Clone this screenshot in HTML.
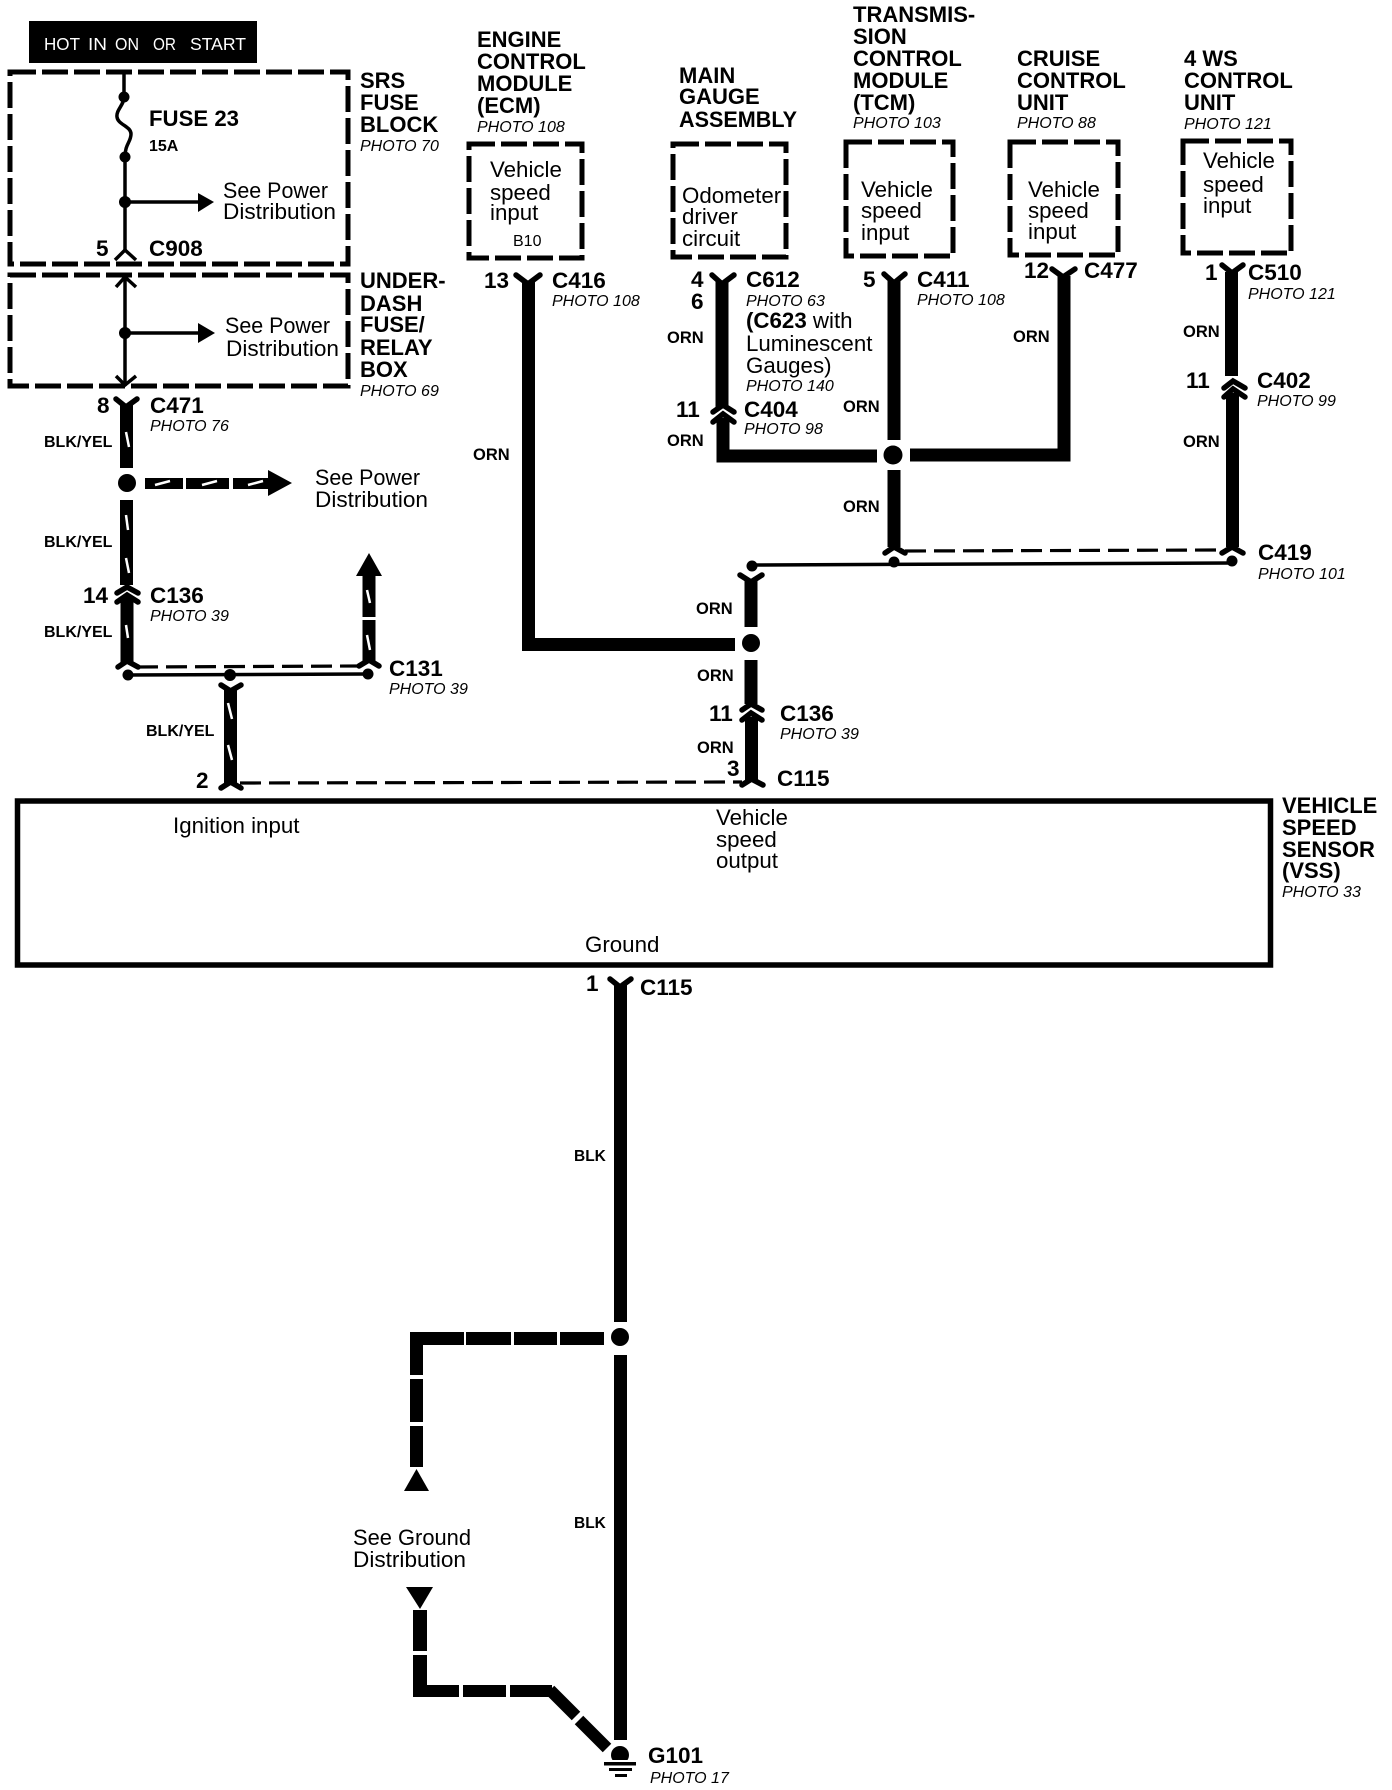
<!DOCTYPE html>
<html>
<head>
<meta charset="utf-8">
<style>
html,body{margin:0;padding:0;background:#fff;width:1392px;height:1790px;overflow:hidden}
svg{display:block}
text{font-family:"Liberation Sans",sans-serif;fill:#000}
.b{font-weight:700;font-size:22px}
.c{font-weight:700;font-size:22.5px}
.n{font-size:22.3px}
.p{font-style:italic;font-size:16px}
.w{font-weight:700;font-size:16px}
.o{font-weight:700;font-size:16.5px}
.box{fill:none;stroke:#000;stroke-width:5;stroke-dasharray:26 6}
.thin{fill:none;stroke:#000;stroke-width:3.5}
.thick{fill:none;stroke:#000;stroke-width:13}
.ch{fill:none;stroke:#000;stroke-width:5.5;stroke-linecap:round}
.dash{fill:none;stroke:#000;stroke-width:3.2;stroke-dasharray:21 8}
.s{stroke:#fff;stroke-width:2.5;fill:none}
</style>
</head>
<body>
<svg width="1392" height="1790" viewBox="0 0 1392 1790" xmlns="http://www.w3.org/2000/svg">
<rect width="1392" height="1790" fill="#fff"/>

<!-- header -->
<rect x="29" y="21" width="228" height="42" fill="#000"/>
<g font-size="17.5">
<text x="44" y="50" style="fill:#fff" textLength="36" lengthAdjust="spacingAndGlyphs">HOT</text>
<text x="88" y="50" style="fill:#fff" textLength="19" lengthAdjust="spacingAndGlyphs">IN</text>
<text x="115" y="50" style="fill:#fff" textLength="24" lengthAdjust="spacingAndGlyphs">ON</text>
<text x="153" y="50" style="fill:#fff" textLength="23" lengthAdjust="spacingAndGlyphs">OR</text>
<text x="190" y="50" style="fill:#fff" textLength="56" lengthAdjust="spacingAndGlyphs">START</text>
</g>

<!-- dashed boxes -->
<rect class="box" x="10" y="72" width="338" height="192"/>
<rect class="box" x="10" y="275" width="338" height="111"/>
<rect class="box" x="469" y="144" width="113" height="114"/>
<rect class="box" x="673" y="144" width="113" height="113"/>
<rect class="box" x="846" y="142" width="107" height="114"/>
<rect class="box" x="1010" y="142" width="108" height="113"/>
<rect class="box" x="1183" y="141" width="108" height="112"/>

<!-- VSS box -->
<rect x="17.5" y="801" width="1253" height="164" fill="none" stroke="#000" stroke-width="5.5"/>

<!-- SRS internals -->
<line class="thin" x1="124" y1="72" x2="124" y2="97"/>
<path class="thin" d="M124 97 C124 105 116 110 117 117 C118 125 131 126 131 134 C131 142 125 144 125 157"/>
<circle cx="124" cy="97" r="5.5"/>
<circle cx="125" cy="157" r="5.5"/>
<line class="thin" x1="125" y1="157" x2="125" y2="252"/>
<circle cx="125" cy="202" r="6"/>
<line class="thin" x1="125" y1="202" x2="200" y2="202"/>
<polygon points="198,193 214,202 198,212"/>
<polyline class="thin" points="115,260 125,250 136,260"/>
<!-- under-dash internals -->
<polyline class="thin" points="116,287 125,277 136,287"/>
<line class="thin" x1="125" y1="275" x2="125" y2="386"/>
<circle cx="125" cy="333" r="6"/>
<line class="thin" x1="125" y1="333" x2="200" y2="333"/>
<polygon points="198,323 215,333 198,343"/>
<polyline class="thin" points="116,376 125,385 136,376"/>

<!-- left BLK/YEL harness -->
<polyline class="ch" points="116,399 126,407 137,399"/>
<line class="thick" x1="126.5" y1="405" x2="126.5" y2="468"/>
<line class="s" x1="126" y1="432" x2="129" y2="447"/>
<circle cx="127" cy="483" r="9"/>
<rect x="145" y="478" width="38" height="11"/>
<rect x="186" y="478" width="43" height="11"/>
<rect x="233" y="478" width="36" height="11"/>
<polygon points="268,470 292,483 268,496"/>
<line class="s" x1="155" y1="485" x2="170" y2="481"/>
<line class="s" x1="202" y1="485" x2="217" y2="481"/>
<line class="s" x1="248" y1="485" x2="263" y2="481"/>
<line class="thick" x1="126.5" y1="500" x2="126.5" y2="585"/>
<line class="s" x1="126" y1="515" x2="128" y2="530"/>
<line class="s" x1="126" y1="558" x2="129" y2="573"/>
<polyline class="ch" points="117,593 127,587 138,593"/>
<polyline class="ch" points="117,602 127,595 138,602"/>
<line class="thick" x1="127" y1="597" x2="127" y2="662"/>
<line class="s" x1="126" y1="625" x2="128" y2="638"/>
<polyline class="ch" points="118,667 127,661 138,667"/>
<line class="dash" x1="137" y1="667" x2="358" y2="666"/>
<line class="thin" x1="128" y1="675" x2="368" y2="674"/>
<circle cx="128" cy="675" r="5.5"/>
<circle cx="230" cy="675" r="6"/>
<circle cx="368" cy="674" r="5.5"/>
<polyline class="ch" points="359,666 369,660 379,666"/>
<line class="thick" x1="369" y1="620" x2="369" y2="662"/>
<line class="thick" x1="369" y1="576" x2="369" y2="617"/>
<polygon points="369,553 382,576 356,576"/>
<line class="s" x1="367" y1="590" x2="370" y2="603"/>
<line class="s" x1="367" y1="635" x2="370" y2="650"/>
<polyline class="ch" points="221,685 230.5,691 241,685"/>
<line class="thick" x1="230.5" y1="688" x2="230.5" y2="784"/>
<line class="s" x1="228" y1="703" x2="232" y2="719"/>
<line class="s" x1="228" y1="745" x2="232" y2="760"/>
<polyline class="ch" points="221,788 230.5,782 241,788"/>
<line class="dash" x1="240" y1="783" x2="742" y2="782"/>

<!-- ECM wire -->
<polyline class="ch" points="516,275 528,284 540,275"/>
<polyline class="thick" points="528.5,282 528.5,644.5 735,644.5"/>

<!-- Gauge wire -->
<polyline class="ch" points="712,275 722,284 734,275"/>
<line class="thick" x1="722" y1="282" x2="722" y2="407"/>
<polyline class="ch" points="713,412 723,405 734,412"/>
<polyline class="ch" points="713,422 723,414 734,422"/>
<polyline class="thick" points="723,418 723,456 877,456"/>
<circle cx="893" cy="455" r="9.5"/>

<!-- TCM wire -->
<polyline class="ch" points="884,274 894,283 905,274"/>
<line class="thick" x1="894" y1="281" x2="894" y2="440"/>
<line class="thick" x1="894" y1="470" x2="894" y2="547"/>
<polyline class="ch" points="885,553 894,547 905,553"/>
<circle cx="894" cy="562" r="5.5"/>
<line class="dash" x1="905" y1="551" x2="1220" y2="550"/>
<line class="thin" x1="752" y1="565" x2="1232" y2="563"/>
<circle cx="752" cy="566" r="5.5"/>
<circle cx="1232" cy="561" r="5.5"/>

<!-- Cruise wire -->
<polyline class="ch" points="1052,269 1063,277 1075,269"/>
<polyline class="thick" points="1064,276 1064,455 910,455"/>

<!-- 4WS wire -->
<polyline class="ch" points="1222,265 1232,273 1243,265"/>
<line class="thick" x1="1231.5" y1="272" x2="1231.5" y2="376"/>
<polyline class="ch" points="1224,388 1233,381 1245,388"/>
<polyline class="ch" points="1224,397 1233,389 1245,397"/>
<line class="thick" x1="1232.5" y1="393" x2="1232.5" y2="547"/>
<polyline class="ch" points="1222,553 1232,547 1243,553"/>

<!-- centre ORN -->
<polyline class="ch" points="740,575 751,582 762,575"/>
<line class="thick" x1="751" y1="581" x2="751" y2="627"/>
<circle cx="751" cy="643" r="9"/>
<line class="thick" x1="751" y1="660" x2="751" y2="704"/>
<polyline class="ch" points="742,710 751,704 762,710"/>
<polyline class="ch" points="742,720 751,713 762,720"/>
<line class="thick" x1="751.5" y1="717" x2="751.5" y2="781"/>
<polyline class="ch" points="742,785 751.5,779 763,785"/>

<!-- ground wire -->
<polyline class="ch" points="610,979 620,987 631,979"/>
<line class="thick" x1="620.5" y1="985" x2="620.5" y2="1322"/>
<circle cx="620" cy="1337" r="9"/>
<line class="thick" x1="620.5" y1="1355" x2="620.5" y2="1740"/>
<circle cx="620" cy="1755" r="9"/>
<rect x="600" y="1760" width="40" height="8" fill="#fff"/>
<rect x="604" y="1762" width="32" height="3.5" fill="#000"/>
<rect x="609" y="1768" width="23" height="3" fill="#000"/>
<rect x="615" y="1774" width="12" height="3" fill="#000"/>

<!-- ground distribution upper -->
<rect x="410" y="1332" width="54" height="13"/>
<rect x="466" y="1332" width="45" height="13"/>
<rect x="514" y="1332" width="43" height="13"/>
<rect x="560" y="1332" width="44" height="13"/>
<rect x="410" y="1332" width="13" height="43"/>
<rect x="410" y="1379" width="13" height="43"/>
<rect x="410" y="1426" width="13" height="41"/>
<polygon points="416.5,1469 429,1491 404,1491"/>

<!-- ground distribution lower -->
<polygon points="406,1587 433,1587 420,1609"/>
<rect x="413" y="1610" width="14" height="41"/>
<rect x="413" y="1655" width="14" height="42"/>
<rect x="413" y="1685" width="46" height="12"/>
<rect x="463" y="1685" width="43" height="12"/>
<rect x="510" y="1685" width="42" height="12"/>
<line x1="550" y1="1690" x2="576" y2="1716" stroke="#000" stroke-width="12"/>
<line x1="579" y1="1720" x2="607" y2="1748" stroke="#000" stroke-width="12"/>

<!-- TEXT -->
<text class="b" x="360" y="88">SRS</text>
<text class="b" x="360" y="110">FUSE</text>
<text class="b" x="360" y="132">BLOCK</text>
<text class="p" x="360" y="151">PHOTO 70</text>

<text class="b" x="149" y="126" textLength="90" lengthAdjust="spacingAndGlyphs">FUSE 23</text>
<text class="w" x="149" y="151">15A</text>
<text class="n" x="223" y="198" textLength="105" lengthAdjust="spacingAndGlyphs">See Power</text>
<text class="n" x="223" y="219" textLength="113" lengthAdjust="spacingAndGlyphs">Distribution</text>
<text class="c" x="149" y="256">C908</text>
<text class="c" x="96" y="256">5</text>

<text class="b" x="360" y="288">UNDER-</text>
<text class="b" x="360" y="311">DASH</text>
<text class="b" x="360" y="332">FUSE/</text>
<text class="b" x="360" y="355">RELAY</text>
<text class="b" x="360" y="377">BOX</text>
<text class="p" x="360" y="396">PHOTO 69</text>
<text class="n" x="225" y="333" textLength="105" lengthAdjust="spacingAndGlyphs">See Power</text>
<text class="n" x="226" y="356" textLength="113" lengthAdjust="spacingAndGlyphs">Distribution</text>

<text class="c" x="97" y="413">8</text>
<text class="c" x="150" y="413">C471</text>
<text class="p" x="150" y="431">PHOTO 76</text>
<text class="w" x="44" y="447">BLK/YEL</text>
<text class="n" x="315" y="485" textLength="105" lengthAdjust="spacingAndGlyphs">See Power</text>
<text class="n" x="315" y="507" textLength="113" lengthAdjust="spacingAndGlyphs">Distribution</text>
<text class="w" x="44" y="547">BLK/YEL</text>
<text class="c" x="83" y="603">14</text>
<text class="c" x="150" y="603">C136</text>
<text class="p" x="150" y="621">PHOTO 39</text>
<text class="w" x="44" y="637">BLK/YEL</text>
<text class="c" x="389" y="676">C131</text>
<text class="p" x="389" y="694">PHOTO 39</text>
<text class="w" x="146" y="736">BLK/YEL</text>
<text class="c" x="196" y="788">2</text>

<text class="b" x="477" y="47">ENGINE</text>
<text class="b" x="477" y="69">CONTROL</text>
<text class="b" x="477" y="91">MODULE</text>
<text class="b" x="477" y="113">(ECM)</text>
<text class="p" x="477" y="132">PHOTO 108</text>
<text class="n" x="490" y="177">Vehicle</text>
<text class="n" x="490" y="200">speed</text>
<text class="n" x="490" y="220">input</text>
<text x="513" y="246" font-size="16">B10</text>
<text class="c" x="484" y="288">13</text>
<text class="c" x="552" y="288">C416</text>
<text class="p" x="552" y="306">PHOTO 108</text>
<text class="o" x="473" y="460">ORN</text>

<text class="b" x="679" y="83">MAIN</text>
<text class="b" x="679" y="104">GAUGE</text>
<text class="b" x="679" y="127" textLength="118" lengthAdjust="spacingAndGlyphs">ASSEMBLY</text>
<text class="n" x="682" y="203">Odometer</text>
<text class="n" x="682" y="224">driver</text>
<text class="n" x="682" y="246">circuit</text>
<text class="c" x="691" y="287">4</text>
<text class="c" x="691" y="309">6</text>
<text class="c" x="746" y="287">C612</text>
<text class="p" x="746" y="306">PHOTO 63</text>
<text class="n" x="746" y="328"><tspan font-weight="700">(C623</tspan> with</text>
<text class="n" x="746" y="351">Luminescent</text>
<text class="n" x="746" y="373">Gauges)</text>
<text class="p" x="746" y="391">PHOTO 140</text>
<text class="o" x="667" y="343">ORN</text>
<text class="c" x="676" y="417">11</text>
<text class="c" x="744" y="417">C404</text>
<text class="p" x="744" y="434">PHOTO 98</text>
<text class="o" x="667" y="446">ORN</text>

<text class="b" x="853" y="22">TRANSMIS-</text>
<text class="b" x="853" y="44">SION</text>
<text class="b" x="853" y="66">CONTROL</text>
<text class="b" x="853" y="88">MODULE</text>
<text class="b" x="853" y="110">(TCM)</text>
<text class="p" x="853" y="128">PHOTO 103</text>
<text class="n" x="861" y="197">Vehicle</text>
<text class="n" x="861" y="218">speed</text>
<text class="n" x="861" y="240">input</text>
<text class="c" x="863" y="287">5</text>
<text class="c" x="917" y="287">C411</text>
<text class="p" x="917" y="305">PHOTO 108</text>
<text class="o" x="843" y="412">ORN</text>
<text class="o" x="843" y="512">ORN</text>

<text class="b" x="1017" y="66">CRUISE</text>
<text class="b" x="1017" y="88">CONTROL</text>
<text class="b" x="1017" y="110">UNIT</text>
<text class="p" x="1017" y="128">PHOTO 88</text>
<text class="n" x="1028" y="197">Vehicle</text>
<text class="n" x="1028" y="218">speed</text>
<text class="n" x="1028" y="239">input</text>
<text class="c" x="1024" y="278">12</text>
<text class="c" x="1084" y="278">C477</text>
<text class="o" x="1013" y="342">ORN</text>

<text class="b" x="1184" y="66">4 WS</text>
<text class="b" x="1184" y="88">CONTROL</text>
<text class="b" x="1184" y="110">UNIT</text>
<text class="p" x="1184" y="129">PHOTO 121</text>
<text class="n" x="1203" y="168">Vehicle</text>
<text class="n" x="1203" y="192">speed</text>
<text class="n" x="1203" y="213">input</text>
<text class="c" x="1205" y="280">1</text>
<text class="c" x="1248" y="280">C510</text>
<text class="p" x="1248" y="299">PHOTO 121</text>
<text class="o" x="1183" y="337">ORN</text>
<text class="c" x="1186" y="388">11</text>
<text class="c" x="1257" y="388">C402</text>
<text class="p" x="1257" y="406">PHOTO 99</text>
<text class="o" x="1183" y="447">ORN</text>
<text class="c" x="1258" y="560">C419</text>
<text class="p" x="1258" y="579">PHOTO 101</text>

<text class="o" x="696" y="614">ORN</text>
<text class="o" x="697" y="681">ORN</text>
<text class="o" x="697" y="753">ORN</text>
<text class="c" x="709" y="721">11</text>
<text class="c" x="780" y="721">C136</text>
<text class="p" x="780" y="739">PHOTO 39</text>
<text class="c" x="727" y="776">3</text>
<text class="c" x="777" y="786">C115</text>

<text class="n" x="173" y="833">Ignition input</text>
<text class="n" x="716" y="825">Vehicle</text>
<text class="n" x="716" y="847">speed</text>
<text class="n" x="716" y="868">output</text>
<text class="n" x="585" y="952">Ground</text>

<text class="b" x="1282" y="813">VEHICLE</text>
<text class="b" x="1282" y="835">SPEED</text>
<text class="b" x="1282" y="857">SENSOR</text>
<text class="b" x="1282" y="878">(VSS)</text>
<text class="p" x="1282" y="897">PHOTO 33</text>

<text class="c" x="586" y="991">1</text>
<text class="c" x="640" y="995">C115</text>
<text class="w" x="574" y="1161" style="font-size:15.5px">BLK</text>
<text class="w" x="574" y="1528" style="font-size:15.5px">BLK</text>
<text class="n" x="353" y="1545" textLength="118" lengthAdjust="spacingAndGlyphs">See Ground</text>
<text class="n" x="353" y="1567" textLength="113" lengthAdjust="spacingAndGlyphs">Distribution</text>
<text class="c" x="648" y="1763">G101</text>
<text class="p" x="650" y="1783">PHOTO 17</text>
</svg>
</body>
</html>
